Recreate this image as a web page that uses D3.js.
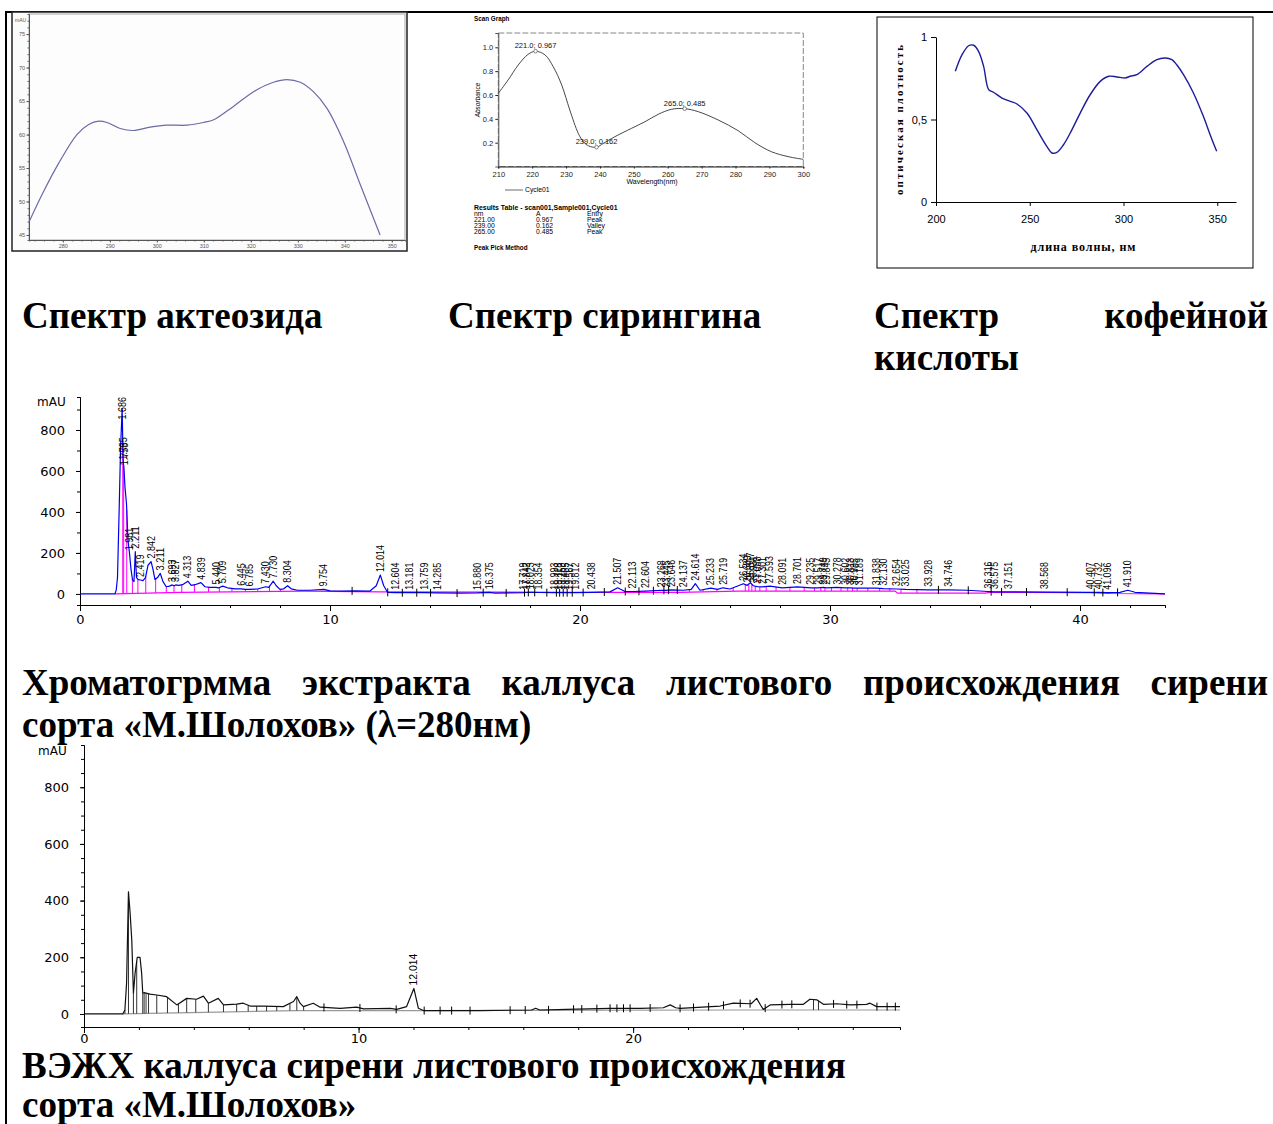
<!DOCTYPE html>
<html>
<head>
<meta charset="utf-8">
<title>Спектры и хроматограммы</title>
<script src="https://cdn.jsdelivr.net/npm/d3@7/dist/d3.min.js"></script>
<style>
  html, body { margin: 0; padding: 0; background: #fff; }
  svg { display: block; }
  .cap { font-family: "Liberation Serif", "Times New Roman", serif; font-weight: bold; font-size: 37px; fill: #000; }
</style>
</head>
<body>
<svg id="page" width="1273" height="1124"></svg>
<script>
// ---- spectrum of acteoside (mAU) ----
const acteosideWl = [272.9, 275.9, 279.1, 283.0, 285.5, 287.6, 289.4, 292.2, 295.0, 298.6, 302.1, 306.4, 309.9, 312.1, 316.3, 320.6, 324.8, 327.7, 330.5, 333.3, 336.2, 339.7, 343.3, 347.5];
const acteosideMau = [47.1, 51.5, 55.7, 60.0, 61.5, 62.0, 61.8, 60.9, 60.6, 61.1, 61.4, 61.4, 61.8, 62.2, 64.2, 66.4, 67.8, 68.2, 67.8, 66.4, 63.9, 59.0, 52.5, 45.0];
const acteosideXTicks = [280, 290, 300, 310, 320, 330, 340, 350];
const acteosideYTicks = [45, 50, 55, 60, 65, 70, 75];

// ---- scan graph of syringin ----
const syringinWl = [210, 212.9, 215.9, 218.8, 221.0, 223.8, 226.2, 228.7, 231.1, 233.6, 235.1, 236.7, 239.0, 241.0, 244.4, 249.3, 253.3, 257.2, 261.1, 265.0, 269.0, 274.9, 280.8, 285.7, 290.6, 295.5, 300];
const syringinAbs = [0.614, 0.726, 0.852, 0.941, 0.967, 0.936, 0.838, 0.684, 0.474, 0.278, 0.208, 0.172, 0.162, 0.194, 0.25, 0.32, 0.376, 0.438, 0.48, 0.485, 0.46, 0.39, 0.3, 0.2, 0.124, 0.083, 0.06];
const syringinPeakWl = [221.0, 239.0, 265.0];
const syringinPeakAbs = [0.967, 0.162, 0.485];
const syringinEntry = ["Peak", "Valley", "Peak"];
const syringinXTicks = [210, 220, 230, 240, 250, 260, 270, 280, 290, 300];
const syringinYTicks = [0.2, 0.4, 0.6, 0.8, 1.0];

// ---- spectrum of caffeic acid ----
const caffeicWl = [210.3, 213.9, 217.4, 220.1, 222.7, 225.4, 228.1, 230.7, 235.2, 239.6, 243.2, 248.5, 253.8, 259.1, 261.8, 264.5, 268, 271.6, 276.9, 282.2, 287.6, 292.1, 296.5, 300.9, 303.6, 307.1, 312.5, 317.8, 322.2, 325.8, 328.4, 332, 337.3, 342.6, 346.2, 349.7];
const caffeicAbs = [0.792, 0.893, 0.947, 0.95, 0.913, 0.822, 0.681, 0.665, 0.63, 0.61, 0.594, 0.539, 0.438, 0.337, 0.297, 0.301, 0.347, 0.418, 0.539, 0.65, 0.731, 0.762, 0.758, 0.752, 0.762, 0.772, 0.822, 0.863, 0.873, 0.863, 0.832, 0.772, 0.661, 0.519, 0.408, 0.307];
const caffeicXTicks = [200, 250, 300, 350];
const caffeicYTicks = [0, 0.5, 1];

// ---- chromatogram 1 (λ=280nm): [min, mAU] ----
const chrom1Trace = [[0,0],[1.40,0],[1.45,20],[1.50,80],[1.57,430],[1.62,700],[1.686,906],[1.72,680],[1.735,640],[1.758,613],[1.80,520],[1.86,440],[1.92,260],[1.981,198],[2.04,120],[2.10,70],[2.16,60],[2.211,206],[2.26,80],[2.33,70],[2.419,68],[2.52,65],[2.62,80],[2.72,140],[2.842,158],[2.92,120],[3.0,70],[3.1,80],[3.211,100],[3.32,60],[3.45,35],[3.58,38],[3.693,44],[3.76,40],[3.827,44],[3.95,42],[4.1,45],[4.313,62],[4.45,42],[4.6,45],[4.839,55],[5.0,35],[5.2,32],[5.44,32],[5.55,30],[5.709,38],[5.9,30],[6.2,25],[6.445,25],[6.6,22],[6.785,22],[7.1,24],[7.43,35],[7.55,32],[7.73,62],[7.85,40],[8.0,22],[8.15,25],[8.304,40],[8.45,25],[8.7,18],[9.2,18],[9.754,22],[10.0,15],[10.5,14],[11.0,15],[11.6,14],[11.85,40],[12.014,92],[12.15,40],[12.3,8],[12.604,6],[13.181,6],[13.759,6],[14.285,5],[15.2,4],[15.88,5],[16.375,8],[16.6,4],[17.719,6],[17.842,7],[18.023,8],[18.354,7],[18.993,6],[19.118,6],[19.253,6],[19.405,6],[19.567,6],[19.812,6],[20.438,8],[21.2,10],[21.507,30],[21.8,12],[22.113,12],[22.604,14],[23.268,18],[23.445,17],[23.646,20],[24.137,18],[24.45,22],[24.614,50],[24.8,18],[25.233,28],[25.5,22],[25.719,30],[26.0,24],[26.534,50],[26.689,42],[26.817,55],[26.931,40],[27.088,36],[27.301,34],[27.593,38],[28.091,30],[28.701,34],[29.235,30],[29.517,30],[29.749,32],[29.845,30],[30.278,32],[30.602,30],[30.813,30],[30.985,28],[31.189,28],[31.838,28],[32.130,26],[32.654,24],[33.025,22],[33.928,20],[34.746,20],[35.5,18],[36.316,12],[36.575,10],[37.151,10],[38.568,9],[40.407,8],[40.732,8],[41.096,6],[41.6,8],[41.910,18],[42.2,8],[43.4,0]];
const chrom1Baseline = [[1.40,0],[4.0,8],[9.0,14],[12.0,10],[20.0,8],[24.0,8],[26.3,14],[32.6,14],[32.7,4],[36.2,4],[36.4,8],[40.4,6],[41.2,2],[43.4,0]];
const chrom1Labels = ["1.686","1.735","1.758","1.981","2.211","2.419","2.842","3.211","3.693","3.827","4.313","4.839","5.440","5.709","6.445","6.785","7.430","7.730","8.304","9.754","12.014","12.604","13.181","13.759","14.285","15.880","16.375","17.719","17.842","18.023","18.354","18.993","19.118","19.253","19.405","19.567","19.812","20.438","21.507","22.113","22.604","23.268","23.445","23.646","24.137","24.614","25.233","25.719","26.534","26.689","26.817","26.931","27.088","27.301","27.593","28.091","28.701","29.235","29.517","29.749","29.845","30.278","30.602","30.813","30.985","31.189","31.838","32.130","32.654","33.025","33.928","34.746","36.316","36.575","37.151","38.568","40.407","40.732","41.096","41.910"];
const chrom1XTicks = [0, 10, 20, 30, 40];
const chrom1YTicks = [0, 200, 400, 600, 800];

// ---- chromatogram 2 (ВЭЖХ): [min, mAU] ----
const chrom2Trace = [[0,0],[1.41,0],[1.49,14],[1.55,108],[1.62,431],[1.68,355],[1.74,261],[1.80,73],[1.86,143],[1.94,200],[2.04,200],[2.10,143],[2.14,73],[2.19,75],[2.40,70],[2.65,67],[3.01,61],[3.38,32],[3.74,55],[4.10,52],[4.35,63],[4.53,38],[4.89,55],[5.08,32],[5.56,35],[5.80,38],[6.05,28],[6.53,28],[7.26,26],[7.63,44],[7.75,61],[7.87,38],[7.99,26],[8.35,38],[8.60,24],[9.33,20],[9.93,24],[10.18,18],[11.15,20],[11.39,16],[11.75,26],[12.014,90],[12.18,20],[12.36,12],[14.43,12],[16.3,14],[16.45,20],[16.6,14],[17.58,16],[19.16,20],[20.25,20],[21.1,22],[21.35,32],[21.55,22],[21.71,20],[23.17,28],[23.65,38],[24.3,36],[24.5,55],[24.65,30],[24.74,16],[24.99,32],[25.71,34],[26.2,34],[26.44,52],[26.69,50],[26.93,34],[27.42,36],[27.9,32],[28.5,34],[28.63,38],[28.87,26],[29.72,26]];
const chrom2Baseline = [[1.41,0],[3.9,5],[7.7,12],[12.0,12],[24.0,14],[29.72,14]];
const chrom2Drops = [1.49, 1.62, 1.80, 1.92, 2.14, 2.19, 2.26, 2.35, 2.65, 3.04, 3.44, 3.74, 4.07, 4.53, 5.08, 5.56, 5.98, 6.29, 6.65, 7.02, 7.50, 7.75, 8.0, 24.74, 26.57, 26.75];
const chrom2Marks = [8.74, 10.05, 11.37, 12.39, 12.97, 13.39, 14.06, 15.52, 16.07, 16.92, 17.83, 18.13, 18.68, 19.16, 19.41, 19.65, 19.89, 20.62, 21.71, 22.2, 22.75, 23.29, 23.9, 24.26, 24.81, 25.42, 25.78, 27.3, 27.78, 28.15, 28.88, 29.25, 29.55];
const chrom2Labels = ["12.014"];
const chrom2XTicks = [0, 10, 20];
const chrom2YTicks = [0, 200, 400, 600, 800];

const svg = d3.select("#page");
const SANS = "Arial, 'Liberation Sans', sans-serif";
const SERIF = "'Liberation Serif', 'Times New Roman', serif";

function styleAxis(g, size, family, color) {
  g.attr("font-size", size).attr("font-family", family);
  g.selectAll("text").attr("fill", color);
  g.selectAll("line, path").attr("stroke", color);
}

function valueAt(pts, t) {
  const i = d3.bisector(d => d[0]).left(pts, t);
  if (i <= 0) return pts[0][1];
  if (i >= pts.length) return pts[pts.length - 1][1];
  const a = pts[i - 1], b = pts[i];
  return a[1] + (b[1] - a[1]) * (t - a[0]) / (b[0] - a[0]);
}

// page frame
svg.append("line").attr("x1", 6).attr("y1", 12).attr("x2", 1273).attr("y2", 12)
  .attr("stroke", "#000").attr("stroke-width", 2);
svg.append("line").attr("x1", 6).attr("y1", 11).attr("x2", 6).attr("y2", 1124)
  .attr("stroke", "#000").attr("stroke-width", 2);

// ============ acteoside ============
const g1 = svg.append("g");
g1.append("rect").attr("x", 12).attr("y", 12).attr("width", 395).attr("height", 239)
  .attr("fill", "#fbfbfb").attr("stroke", "#222").attr("stroke-width", 1.5);
const xa = d3.scaleLinear().domain([272.8, 352.8]).range([29, 405]);
const ya = d3.scaleLinear().domain([44.25, 78]).range([240, 14]);
g1.append("rect").attr("x", 29).attr("y", 14).attr("width", 376).attr("height", 226)
  .attr("fill", "#fdfdfd").attr("stroke", "#aaa");
g1.append("g").attr("transform", "translate(29,0)")
  .call(d3.axisLeft(ya).tickValues(d3.range(45, 78, 1)).tickSize(1.5).tickFormat(""))
  .call(g => styleAxis(g, 5.5, SANS, "#666"));
g1.append("g").attr("transform", "translate(29,0)")
  .call(d3.axisLeft(ya).tickValues(acteosideYTicks).tickSize(2.5).tickPadding(1.5).tickSizeOuter(0))
  .call(g => styleAxis(g, 5.5, SANS, "#555"));
g1.append("g").attr("transform", "translate(0,240)")
  .call(d3.axisBottom(xa).tickValues(d3.range(274, 353, 2)).tickSize(1.5).tickFormat(""))
  .call(g => styleAxis(g, 5.5, SANS, "#666"));
g1.append("g").attr("transform", "translate(0,240)")
  .call(d3.axisBottom(xa).tickValues(acteosideXTicks).tickSize(2.5).tickPadding(1.5).tickSizeOuter(0))
  .call(g => styleAxis(g, 5.5, SANS, "#555"));
g1.append("text").attr("x", 15).attr("y", 22).attr("font-size", 5).attr("font-family", SANS)
  .attr("fill", "#555").text("mAU");
g1.append("path").datum(d3.zip(acteosideWl, acteosideMau))
  .attr("fill", "none").attr("stroke", "#6a6aa8").attr("stroke-width", 1.2)
  .attr("d", d3.line().curve(d3.curveCatmullRom).x(d => xa(d[0])).y(d => ya(d[1])));

// ============ syringin ============
const g2 = svg.append("g");
const xs = d3.scaleLinear().domain([210, 300]).range([498.3, 803.3]);
const ys = d3.scaleLinear().domain([0, 1.12]).range([166.5, 33]);
g2.append("text").attr("x", 474).attr("y", 21).attr("font-size", 6.3).attr("font-weight", "bold")
  .attr("font-family", SANS).text("Scan Graph");
g2.append("rect").attr("x", 498.3).attr("y", 33).attr("width", 305).attr("height", 133.5)
  .attr("fill", "none").attr("stroke", "#888").attr("stroke-dasharray", "6 2");
g2.append("g").attr("transform", "translate(498.3,0)")
  .call(d3.axisLeft(ys).tickValues(syringinYTicks).tickSize(3).tickPadding(2).tickFormat(d3.format(".1f")))
  .call(g => styleAxis(g, 7.5, SANS, "#222"))
  .call(g => g.select(".domain").attr("stroke", "#555"));
g2.append("g").attr("transform", "translate(0,166.5)")
  .call(d3.axisBottom(xs).tickValues(syringinXTicks).tickSize(2).tickPadding(3))
  .call(g => styleAxis(g, 7.5, SANS, "#222"));
g2.append("text").attr("transform", "translate(480,100) rotate(-90)").attr("text-anchor", "middle")
  .attr("font-size", 6.5).attr("font-style", "italic").attr("font-family", SANS).text("Absorbance");
g2.append("text").attr("x", 652).attr("y", 184).attr("text-anchor", "middle")
  .attr("font-size", 7).attr("font-family", SANS).text("Wavelength(nm)");
g2.append("path").datum(d3.zip(syringinWl, syringinAbs))
  .attr("fill", "none").attr("stroke", "#333").attr("stroke-width", 0.9)
  .attr("d", d3.line().curve(d3.curveCatmullRom).x(d => xs(d[0])).y(d => ys(d[1])));
const sPeaks = d3.zip(syringinPeakWl, syringinPeakAbs);
g2.selectAll("circle.pk").data(sPeaks).join("circle").attr("class", "pk")
  .attr("cx", d => xs(d[0])).attr("cy", d => ys(d[1])).attr("r", 1.8)
  .attr("fill", "#fff").attr("stroke", "#555").attr("stroke-width", 0.7);
g2.selectAll("text.pk").data(sPeaks).join("text").attr("class", "pk")
  .attr("x", d => xs(d[0])).attr("y", d => ys(d[1]) - 3).attr("text-anchor", "middle")
  .attr("font-size", 7.5).attr("font-family", SANS).attr("fill", "#111")
  .text(d => d3.format(".1f")(d[0]) + "; " + d3.format(".3f")(d[1]));
// legend
g2.append("line").attr("x1", 505).attr("x2", 523).attr("y1", 190).attr("y2", 190).attr("stroke", "#444").attr("stroke-width", 0.8);
g2.append("text").attr("x", 525).attr("y", 192.3).attr("font-size", 6.8).attr("font-family", SANS).text("Cycle01");
// results table
g2.append("text").attr("x", 474).attr("y", 209.5).attr("font-size", 6.9).attr("font-weight", "bold")
  .attr("font-family", SANS).text("Results Table - scan001,Sample001,Cycle01");
const colX = [474, 536, 587];
["nm", "A", "Entry"].forEach((h, i) => g2.append("text").attr("x", colX[i]).attr("y", 215.5)
  .attr("font-size", 6.8).attr("font-family", SANS).text(h));
syringinPeakWl.forEach((w, r) => {
  const row = [d3.format(".2f")(w), d3.format(".3f")(syringinPeakAbs[r]), syringinEntry[r]];
  row.forEach((v, i) => g2.append("text").attr("x", colX[i]).attr("y", 221.5 + r * 6)
    .attr("font-size", 6.8).attr("font-family", SANS).text(v));
});
g2.append("text").attr("x", 474).attr("y", 249.5).attr("font-size", 6.3).attr("font-weight", "bold")
  .attr("font-family", SANS).text("Peak Pick Method");

// ============ caffeic acid ============
const g3 = svg.append("g");
g3.append("rect").attr("x", 877).attr("y", 17).attr("width", 376).attr("height", 251)
  .attr("fill", "#fff").attr("stroke", "#000").attr("stroke-width", 1);
const xc = d3.scaleLinear().domain([200, 360]).range([936, 1236]);
const yc = d3.scaleLinear().domain([0, 1]).range([202, 37]);
g3.append("g").attr("transform", "translate(936,0)")
  .call(d3.axisLeft(yc).tickValues(caffeicYTicks).tickSize(5).tickPadding(4).tickSizeOuter(0)
    .tickFormat(d => d === 0.5 ? "0,5" : d))
  .call(g => styleAxis(g, 11, SANS, "#000"));
g3.append("g").attr("transform", "translate(0,202)")
  .call(d3.axisBottom(xc).tickValues(caffeicXTicks).tickSize(4).tickPadding(9).tickSizeOuter(0))
  .call(g => styleAxis(g, 11, SANS, "#000"));
g3.append("text").attr("transform", "translate(903,120) rotate(-90)").attr("text-anchor", "middle")
  .attr("font-size", 11).attr("font-weight", "bold").attr("font-family", SERIF)
  .attr("textLength", 150).attr("lengthAdjust", "spacing").text("оптическая плотность");
g3.append("text").attr("x", 1083).attr("y", 251).attr("text-anchor", "middle")
  .attr("font-size", 12).attr("font-weight", "bold").attr("font-family", SERIF)
  .attr("textLength", 105).attr("lengthAdjust", "spacing").text("длина волны, нм");
g3.append("path").datum(d3.zip(caffeicWl, caffeicAbs))
  .attr("fill", "none").attr("stroke", "#1c1c9c").attr("stroke-width", 1.4)
  .attr("d", d3.line().curve(d3.curveCatmullRom).x(d => xc(d[0])).y(d => yc(d[1])));

// ============ chromatogram helper ============
function drawChrom(g, o) {
  const x = d3.scaleLinear().domain(o.xDomain).range(o.xRange);
  const y = d3.scaleLinear().domain(o.yDomain).range(o.yRange);
  const x0 = o.xRange[0], yAx = o.yRange[0];
  // axes
  g.append("g").attr("transform", `translate(${x0},0)`)
    .call(d3.axisLeft(y).tickValues(o.yMinor).tickSize(3).tickFormat(""))
    .call(s => styleAxis(s, o.font, o.family, "#000"));
  g.append("g").attr("transform", `translate(${x0},0)`)
    .call(d3.axisLeft(y).tickValues(o.yTicks).tickSize(4).tickPadding(o.yPad).tickSizeOuter(0))
    .call(s => styleAxis(s, o.font, o.family, "#000"));
  g.append("g").attr("transform", `translate(0,${yAx})`)
    .call(d3.axisBottom(x).tickValues(o.xMinor).tickSize(3).tickFormat(""))
    .call(s => styleAxis(s, o.font, o.family, "#000"));
  g.append("g").attr("transform", `translate(0,${yAx})`)
    .call(d3.axisBottom(x).tickValues(o.xTicks).tickSize(6).tickPadding(o.xPad).tickSizeOuter(0))
    .call(s => styleAxis(s, o.font, o.family, "#000"));
  g.append("text").attr("x", o.mau[0]).attr("y", o.mau[1]).attr("font-size", o.font - 1)
    .attr("font-family", o.family).text("mAU");

  const line = d3.line().x(d => x(d[0])).y(d => y(d[1]));
  g.append("path").datum(o.baseline).attr("fill", "none").attr("stroke", o.baseColor)
    .attr("stroke-width", 1.2).attr("d", line);
  // drop lines and integration marks
  g.selectAll("line.drop").data(o.drops).join("line").attr("class", "drop")
    .attr("x1", d => x(d)).attr("x2", d => x(d))
    .attr("y1", d => y(valueAt(o.trace, d))).attr("y2", d => y(valueAt(o.baseline, d)))
    .attr("stroke", o.dropColor).attr("stroke-width", 1);
  g.append("path").datum(o.trace).attr("fill", "none").attr("stroke", o.color)
    .attr("stroke-width", 1.2).attr("stroke-linejoin", "round").attr("d", line);
  g.selectAll("line.mark").data(o.marks).join("line").attr("class", "mark")
    .attr("x1", d => x(d)).attr("x2", d => x(d))
    .attr("y1", d => y(valueAt(o.trace, d)) - 4).attr("y2", d => y(valueAt(o.trace, d)) + 4)
    .attr("stroke", "#000").attr("stroke-width", 1);
  // retention time labels
  g.selectAll("text.rt").data(o.labels).join("text").attr("class", "rt")
    .attr("transform", d => {
      const len = d.length * o.labelW;
      const yb = Math.max(y(valueAt(o.trace, +d)) - 3, o.yRange[1] + len);
      return `translate(${x(+d) + 3.6},${yb}) rotate(-90)`;
    })
    .attr("font-size", o.labelFont).attr("font-family", SANS).attr("fill", "#000")
    .attr("textLength", d => d.length * o.labelW).attr("lengthAdjust", "spacingAndGlyphs")
    .text(d => d);
}

// chromatogram 1 : boundaries between neighbouring labelled peaks
const rt1 = chrom1Labels.map(Number);
const bounds1 = d3.pairs(rt1, (a, b) => (a + b) / 2);
const drops1 = bounds1.filter(b => b < 9.5 || (b > 24 && b < 33.5));
const marks1 = bounds1.filter(b => !(b < 9.5 || (b > 24 && b < 33.5)));

drawChrom(svg.append("g"), {
  xDomain: [0, 43.4], xRange: [80, 1165],
  yDomain: [-54, 961], yRange: [605, 397],
  xTicks: chrom1XTicks, xMinor: d3.range(2, 43.4, 2),
  yTicks: chrom1YTicks, yMinor: d3.range(100, 961, 100),
  font: 13, family: "'DejaVu Sans', sans-serif", yPad: 11, xPad: 4,
  mau: [37, 406],
  trace: chrom1Trace, baseline: chrom1Baseline, color: "#0000f0",
  baseColor: "#ff00ff", dropColor: "#ff00ff",
  drops: drops1, marks: marks1,
  labels: chrom1Labels, labelW: 4.5, labelFont: 10.5
});

// chromatogram 2
drawChrom(svg.append("g"), {
  xDomain: [0, 29.72], xRange: [84, 900],
  yDomain: [-46, 949], yRange: [1027, 745],
  xTicks: chrom2XTicks, xMinor: d3.range(2, 29.72, 2),
  yTicks: chrom2YTicks, yMinor: d3.range(50, 949, 50),
  font: 13, family: "'DejaVu Sans', sans-serif", yPad: 11, xPad: 1,
  mau: [38, 755],
  trace: chrom2Trace, baseline: chrom2Baseline, color: "#111",
  baseColor: "#999", dropColor: "#333",
  drops: chrom2Drops, marks: chrom2Marks,
  labels: chrom2Labels, labelW: 5.3, labelFont: 11
});

// ============ captions ============
function capText(x, y, s, anchor) {
  return svg.append("text").attr("class", "cap").attr("x", x).attr("y", y)
    .attr("text-anchor", anchor || "start").text(s);
}
function justifyLine(s, xLeft, xRight, yBase) {
  const nodes = s.split(" ").map(w => svg.append("text").attr("class", "cap").attr("y", yBase).text(w));
  const widths = nodes.map(n => n.node().getComputedTextLength());
  const gap = (xRight - xLeft - d3.sum(widths)) / (nodes.length - 1);
  let x = xLeft;
  nodes.forEach((n, i) => { n.attr("x", x); x += widths[i] + gap; });
}

capText(22, 328, "Спектр актеозида");
capText(448, 328, "Спектр сирингина");
capText(874, 328, "Спектр");
capText(1268, 328, "кофейной", "end");
capText(874, 370, "кислоты");
justifyLine("Хроматогрмма экстракта каллуса листового происхождения сирени", 22, 1268, 695);
capText(22, 737, "сорта «М.Шолохов» (λ=280нм)");
capText(22, 1078, "ВЭЖХ каллуса сирени листового происхождения");
capText(22, 1117, "сорта «М.Шолохов»");
</script>
</body>
</html>
